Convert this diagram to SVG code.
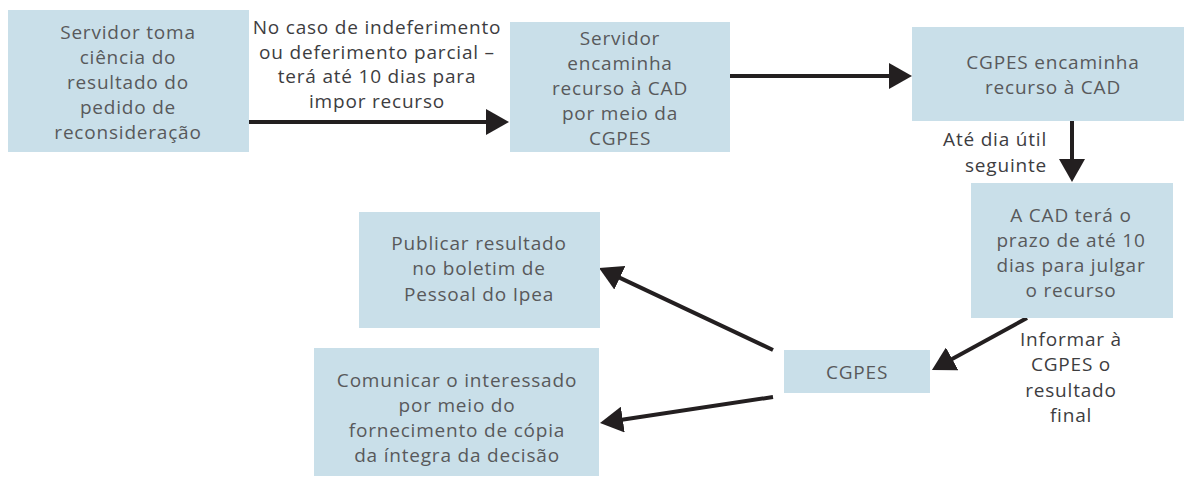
<svg xmlns="http://www.w3.org/2000/svg" width="1184" height="477" viewBox="0 0 1184 477">
<style>
.box{fill:#c9dfe9;stroke:none}
.t{font-family:"Open Sans","Noto Sans","DejaVu Sans",sans-serif;font-size:19px;letter-spacing:0.8px;fill:#58595b;text-anchor:middle}
.l{font-family:"Open Sans","Noto Sans","DejaVu Sans",sans-serif;font-size:19px;letter-spacing:0.8px;fill:#3d3d3f;text-anchor:middle}
.c{stroke:#231f20;stroke-width:4;fill:none;marker-end:url(#ah)}
</style>
<defs>
<marker id="ah" markerUnits="userSpaceOnUse" markerWidth="24" markerHeight="26" refX="11" refY="13" orient="auto">
<path d="M0,0 L23,13 L0,26 Z" fill="#231f20"/>
</marker>
</defs>
<rect width="1184" height="477" fill="#ffffff"/>
<g id="connectors">
<line class="c" x1="249" y1="122" x2="497" y2="122"/>
<line class="c" x1="730" y1="76" x2="900" y2="76"/>
<line class="c" x1="1072" y1="121" x2="1072" y2="170"/>
<line class="c" x1="1027" y1="318" x2="942.5" y2="364.2"/>
<line class="c" x1="773" y1="350" x2="609.9" y2="273.1"/>
<line class="c" x1="773" y1="397" x2="611.9" y2="421.2"/>
<text class="l"><tspan x="377" y="34">No caso de indeferimento</tspan><tspan x="377" y="58.5">ou deferimento parcial –</tspan><tspan x="377" y="83">terá até 10 dias para</tspan><tspan x="377" y="107.5">impor recurso</tspan></text>
<text class="l" style="text-anchor:end"><tspan x="1047" y="145.5">Até dia útil</tspan><tspan x="1047" y="171.5">seguinte</tspan></text>
<text class="l"><tspan x="1071" y="345.5">Informar à</tspan><tspan x="1071" y="371">CGPES o</tspan><tspan x="1071" y="396.5">resultado</tspan><tspan x="1071" y="422">final</tspan></text>
</g>
<g id="n1">
<rect class="box" x="8" y="10" width="241" height="142"/>
<text class="t"><tspan x="128" y="39">Servidor toma</tspan><tspan x="128" y="64">ciência do</tspan><tspan x="128" y="89">resultado do</tspan><tspan x="128" y="114">pedido de</tspan><tspan x="128" y="139">reconsideração</tspan></text>
</g>
<g id="n2">
<rect class="box" x="510" y="22" width="220" height="130"/>
<text class="t"><tspan x="620" y="45">Servidor</tspan><tspan x="620" y="70">encaminha</tspan><tspan x="620" y="95">recurso à CAD</tspan><tspan x="620" y="120">por meio da</tspan><tspan x="620" y="145">CGPES</tspan></text>
</g>
<g id="n3">
<rect class="box" x="912" y="27" width="272" height="94"/>
<text class="t"><tspan x="1053" y="68.5">CGPES encaminha</tspan><tspan x="1053" y="93.5">recurso à CAD</tspan></text>
</g>
<g id="n4">
<rect class="box" x="971" y="183" width="202" height="135"/>
<text class="t"><tspan x="1071" y="221.5">A CAD terá o</tspan><tspan x="1071" y="246.5">prazo de até 10</tspan><tspan x="1071" y="271.5">dias para julgar</tspan><tspan x="1071" y="296.5">o recurso</tspan></text>
</g>
<g id="n5">
<rect class="box" x="784" y="350" width="146" height="43"/>
<text class="t"><tspan x="857" y="378.5">CGPES</tspan></text>
</g>
<g id="n6">
<rect class="box" x="359" y="212" width="241" height="116"/>
<text class="t"><tspan x="479" y="249.5">Publicar resultado</tspan><tspan x="479" y="275">no boletim de</tspan><tspan x="479" y="300.5">Pessoal do Ipea</tspan></text>
</g>
<g id="n7">
<rect class="box" x="314" y="348" width="285" height="128"/>
<text class="t"><tspan x="457" y="386.5">Comunicar o interessado</tspan><tspan x="457" y="411.5">por meio do</tspan><tspan x="457" y="436.5">fornecimento de cópia</tspan><tspan x="457" y="461.5">da íntegra da decisão</tspan></text>
</g>
</svg>
